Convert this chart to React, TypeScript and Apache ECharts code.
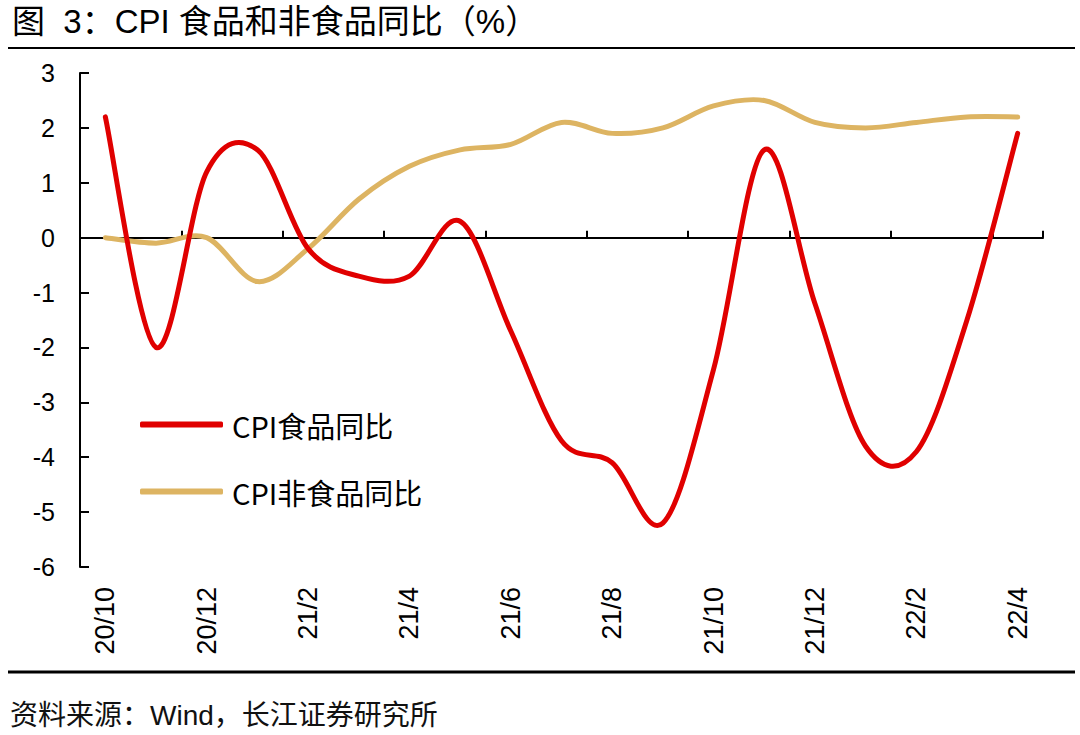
import React, { useEffect, useRef } from "react";
import * as echarts from "echarts";

const months = [
  "20/10", "20/11", "20/12", "21/1", "21/2", "21/3", "21/4", "21/5", "21/6", "21/7",
  "21/8", "21/9", "21/10", "21/11", "21/12", "22/1", "22/2", "22/3", "22/4",
];
const foodYoY = [2.2, -2.0, 1.2, 1.6, -0.2, -0.7, -0.7, 0.3, -1.7, -3.7, -4.1, -5.2, -2.4, 1.6, -1.2, -3.8, -3.9, -1.5, 1.9];
const nonFoodYoY = [0.0, -0.1, 0.0, -0.8, -0.2, 0.7, 1.3, 1.6, 1.7, 2.1, 1.9, 2.0, 2.4, 2.5, 2.1, 2.0, 2.1, 2.2, 2.2];
const seriesNames = ["CPI食品同比", "CPI非食品同比"];
const seriesColors = ["#E00000", "#DDB462"];
const titleText = "图  3：CPI 食品和非食品同比（%）";
const sourceText = "资料来源：Wind，长江证券研究所";

const LATIN = "'Liberation Sans', Arial, 'Noto Sans CJK SC', sans-serif";
const CJK = "'Noto Sans CJK SC', 'Noto Sans', sans-serif";

// Smooth curve (Catmull-Rom, like the spreadsheet's smoothed line) through points
// obtained from the chart's own scales via api.coord.
function smoothRender(values: number[], color: string) {
  return (params: any, api: any) => {
    if (params.dataIndex !== 0) return null;
    const pts = values.map((v, i) => api.coord([i, v]));
    let d = `M${pts[0][0]},${pts[0][1]}`;
    for (let i = 0; i < pts.length - 1; i++) {
      const p0 = pts[i - 1] || pts[i];
      const p1 = pts[i];
      const p2 = pts[i + 1];
      const p3 = pts[i + 2] || pts[i + 1];
      const c1x = p1[0] + (p2[0] - p0[0]) / 6;
      const c1y = p1[1] + (p2[1] - p0[1]) / 6;
      const c2x = p2[0] - (p3[0] - p1[0]) / 6;
      const c2y = p2[1] - (p3[1] - p1[1]) / 6;
      d += ` C${c1x},${c1y} ${c2x},${c2y} ${p2[0]},${p2[1]}`;
    }
    return {
      type: "path",
      shape: { pathData: d },
      style: { stroke: color, lineWidth: 5, fill: "none", lineCap: "round", lineJoin: "round" },
    };
  };
}

export default function App() {
  const ref = useRef<HTMLDivElement>(null);
  useEffect(() => {
    if (!ref.current) return;
    const chart = echarts.init(ref.current, undefined, { renderer: "svg" });
    chart.setOption({
      animation: false,
      backgroundColor: "#ffffff",
      grid: { left: 80, right: 37, top: 73, bottom: 168, containLabel: false },
      legend: {
        orient: "vertical",
        left: 140,
        top: 410,
        padding: 0,
        itemWidth: 83,
        itemHeight: 6,
        itemGap: 38,
        icon: "roundRect",
        textStyle: { fontFamily: CJK, fontSize: 29, color: "#000", padding: [0, 0, 0, 4] },
        data: seriesNames,
      },
      xAxis: [
        {
          type: "category",
          data: months,
          position: "bottom",
          axisLine: { show: false, onZero: false },
          axisTick: { show: false },
          axisLabel: {
            interval: 1,
            rotate: 90,
            margin: 20,
            fontSize: 27,
            fontFamily: LATIN,
            color: "#000",
          },
        },
        {
          type: "category",
          data: months,
          position: "top",
          axisLine: { show: true, onZero: true, lineStyle: { color: "#000", width: 2 } },
          axisTick: { show: true, interval: 1, length: 7, inside: false, lineStyle: { color: "#000", width: 2 } },
          axisLabel: { show: false },
        },
      ],
      yAxis: {
        type: "value",
        min: -6,
        max: 3,
        interval: 1,
        axisLine: { show: true, lineStyle: { color: "#000", width: 2 } },
        axisTick: { show: true, inside: true, length: 9, lineStyle: { color: "#000", width: 2 } },
        splitLine: { show: false },
        axisLabel: { fontSize: 25, fontFamily: LATIN, color: "#000", margin: 25 },
      },
      series: [
        {
          name: seriesNames[0],
          type: "custom",
          xAxisIndex: 0,
          yAxisIndex: 0,
          data: foodYoY.map((v, i) => [i, v]),
          encode: { x: 0, y: 1 },
          renderItem: smoothRender(foodYoY, seriesColors[0]),
          itemStyle: { color: seriesColors[0] },
          clip: false,
          z: 3,
        },
        {
          name: seriesNames[1],
          type: "custom",
          xAxisIndex: 0,
          yAxisIndex: 0,
          data: nonFoodYoY.map((v, i) => [i, v]),
          encode: { x: 0, y: 1 },
          renderItem: smoothRender(nonFoodYoY, seriesColors[1]),
          itemStyle: { color: seriesColors[1] },
          clip: false,
          z: 2,
        },
      ],
      graphic: [
        {
          type: "text",
          left: 12,
          top: 5,
          style: { text: titleText, fontSize: 33, fontFamily: LATIN, fill: "#000" },
        },
        {
          type: "line",
          shape: { x1: 8, y1: 48, x2: 1075, y2: 48 },
          style: { stroke: "#000", lineWidth: 2 },
        },
        {
          type: "line",
          shape: { x1: 8, y1: 672, x2: 1075, y2: 672 },
          style: { stroke: "#000", lineWidth: 3 },
        },
        {
          type: "text",
          left: 10,
          top: 701,
          style: { text: sourceText, fontSize: 28, fontFamily: LATIN, fill: "#111" },
        },
      ],
    });
    return () => chart.dispose();
  }, []);
  return (
    <div
      ref={ref}
      style={{ position: "fixed", left: 0, top: 0, width: 1080, height: 735, background: "#fff" }}
    />
  );
}
